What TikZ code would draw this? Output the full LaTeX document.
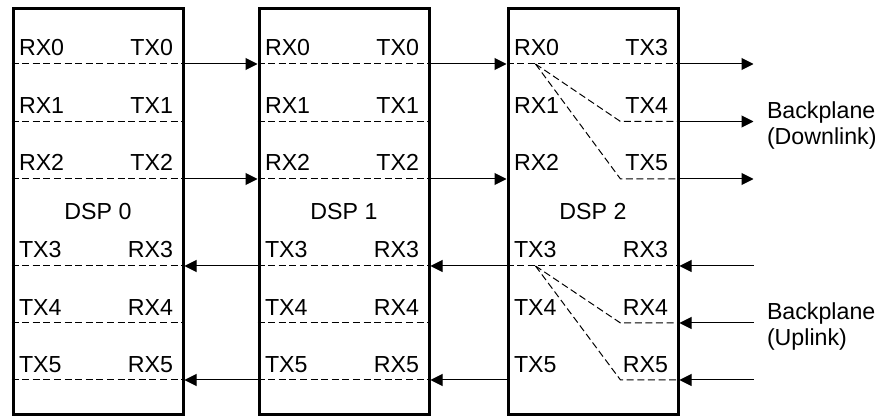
\documentclass[tikz,border=0pt]{standalone}
\usepackage{fontspec}
\setmainfont{Liberation Sans}
\usetikzlibrary{arrows.meta,positioning}

\begin{document}
\begin{tikzpicture}[x=0.5pt,y=-0.5pt,>={Triangle[length=6pt,width=6pt]},line width=0.5pt,
    font=\fontsize{11.6pt}{13pt}\selectfont,
    dspbox/.style={draw,line width=1.5pt,minimum width=85pt,minimum height=203pt},
    port/.style={inner sep=0pt},
    link/.style={dash pattern=on 3.5pt off 1.8pt}]
  \useasboundingbox (0,0) rectangle (880,417);
  \foreach \i/\cx in {0/98,1/344,2/593} {
    \node[dspbox] (dsp\i) at (\cx,212) {DSP \i};
    \foreach \r/\y in {0/64,1/121.5,2/179,3/266,4/323,5/380} {
      \coordinate (w\i\r) at (dsp\i.west |- 0,\y);
      \coordinate (e\i\r) at (dsp\i.east |- 0,\y);
    }
  }
  \foreach \i/\n in {0/0,1/0,2/3} \foreach \r in {0,1,2} {
    \pgfmathtruncatemacro\t{\r+\n}
    \node[port,anchor=base west] (rx\i\r) at ([xshift=3.5pt,yshift=4pt]w\i\r) {RX\r};
    \node[port,anchor=base east] (tx\i\r) at ([xshift=-5.5pt,yshift=4pt]e\i\r) {TX\t};
  }
  \foreach \i in {0,1,2} \foreach \r in {3,4,5} {
    \node[port,anchor=base west] (tx\i\r) at ([xshift=3.5pt,yshift=4pt]w\i\r) {TX\r};
    \node[port,anchor=base east] (rx\i\r) at ([xshift=-5.5pt,yshift=4pt]e\i\r) {RX\r};
  }
  \foreach \i in {0,1} \foreach \r in {0,...,5} {\draw[link] (w\i\r) -- (e\i\r);}
  \foreach \r in {0,3} {
    \draw[link] (w2\r) -- (e2\r);
    \coordinate (f\r) at ([xshift=14.5pt]w2\r);
  }
  \foreach \r/\s in {0/1,0/2,3/4,3/5} {\draw[link] (f\r) -- ([xshift=-29.5pt]e2\s) -- (e2\s);}
  \foreach \i/\j in {0/1,1/2} {
    \foreach \r in {0,2} {\draw[->] (e\i\r) -- (w\j\r);}
    \foreach \r in {3,5} {\draw[->] (w\j\r) -- (e\i\r);}
  }
  \foreach \r in {0,...,5} {\coordinate (bp\r) at ([xshift=37pt]e2\r);}
  \foreach \r in {0,1,2} {\draw[->] (e2\r) -- (bp\r);}
  \foreach \r in {3,4,5} {\draw[->] (bp\r) -- (e2\r);}
  \node[port,anchor=north west,align=left] (down) at ([xshift=6.5pt,yshift=10pt]bp1) {Backplane\\(Downlink)};
  \node[port,anchor=north west,align=left] (up) at ([xshift=6.5pt,yshift=10.5pt]bp4) {Backplane\\(Uplink)};
\end{tikzpicture}
\end{document}
